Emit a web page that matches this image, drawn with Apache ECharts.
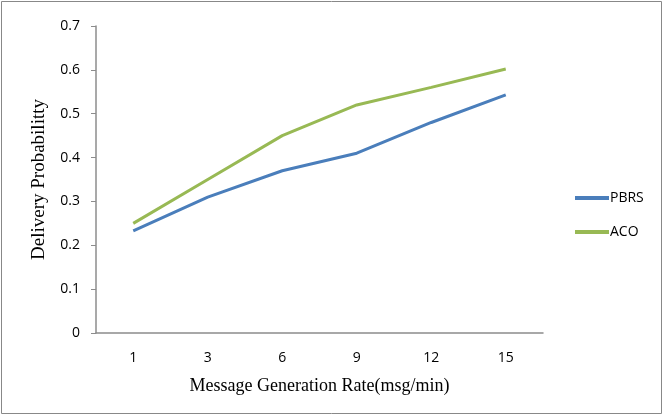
<!DOCTYPE html>
<html>
<head>
<meta charset="utf-8">
<script src="https://cdn.jsdelivr.net/npm/echarts@6/dist/echarts.min.js"></script>
<style>
  html, body { margin: 0; padding: 0; background: #fff; }
  #chart { width: 664px; height: 416px; }
</style>
</head>
<body>
<div id="chart"></div>
<script>
// Message generation rates (msg/min)
const rates = ['1', '3', '6', '9', '12', '15'];
// Delivery probability per routing scheme
const pbrs = [0.233, 0.31, 0.37, 0.41, 0.48, 0.543];
const aco = [0.25, 0.35, 0.45, 0.52, 0.56, 0.602];

const chart = echarts.init(document.getElementById('chart'), null, { renderer: 'canvas' });

const tickFont = { fontFamily: '"Open Sans", "Liberation Sans", sans-serif', fontSize: 14, color: '#000' };
const titleFont = { fontFamily: '"Liberation Serif", "DejaVu Serif", serif', fontSize: 18, color: '#000' };

chart.setOption({
  animation: false,
  backgroundColor: '#fff',
  graphic: [{
    type: 'rect',
    shape: { x: 1.5, y: 1.5, width: 660, height: 412 },
    style: { fill: 'none', stroke: '#888', lineWidth: 1 },
    silent: true
  }],
  grid: { left: 96, right: 121, top: 26, bottom: 83 },
  legend: {
    orient: 'vertical',
    left: 570,
    top: 186,
    itemWidth: 34,
    itemHeight: 4,
    itemGap: 20,
    icon: 'rect',
    textStyle: Object.assign({}, tickFont, { padding: [0, 0, 0, -4] }),
    data: ['PBRS', 'ACO']
  },
  xAxis: {
    type: 'category',
    data: rates,
    boundaryGap: true,
    name: 'Message Generation Rate(msg/min)',
    nameLocation: 'middle',
    nameGap: 44,
    nameTextStyle: titleFont,
    axisLine: { lineStyle: { color: '#8c8c8c', width: 1.5 } },
    axisTick: { show: false },
    axisLabel: Object.assign({ margin: 18 }, tickFont)
  },
  yAxis: {
    type: 'value',
    min: 0,
    max: 0.7,
    interval: 0.1,
    name: 'Delivery Probabilitty',
    nameLocation: 'middle',
    nameGap: 47,
    nameRotate: 90,
    nameTextStyle: Object.assign({}, titleFont, { fontSize: 19 }),
    splitLine: { show: false },
    axisLine: { show: true, lineStyle: { color: '#8c8c8c', width: 1.5 } },
    axisTick: { show: true, inside: false, length: 5, lineStyle: { color: '#8c8c8c' } },
    axisLabel: Object.assign({ margin: 16, formatter: v => String(+v.toFixed(1)) }, tickFont)
  },
  series: [
    {
      name: 'PBRS',
      type: 'line',
      data: pbrs,
      showSymbol: false,
      lineStyle: { color: '#4a7ebb', width: 3 },
      itemStyle: { color: '#4a7ebb' }
    },
    {
      name: 'ACO',
      type: 'line',
      data: aco,
      showSymbol: false,
      lineStyle: { color: '#98b954', width: 3 },
      itemStyle: { color: '#98b954' }
    }
  ]
});
</script>
</body>
</html>
